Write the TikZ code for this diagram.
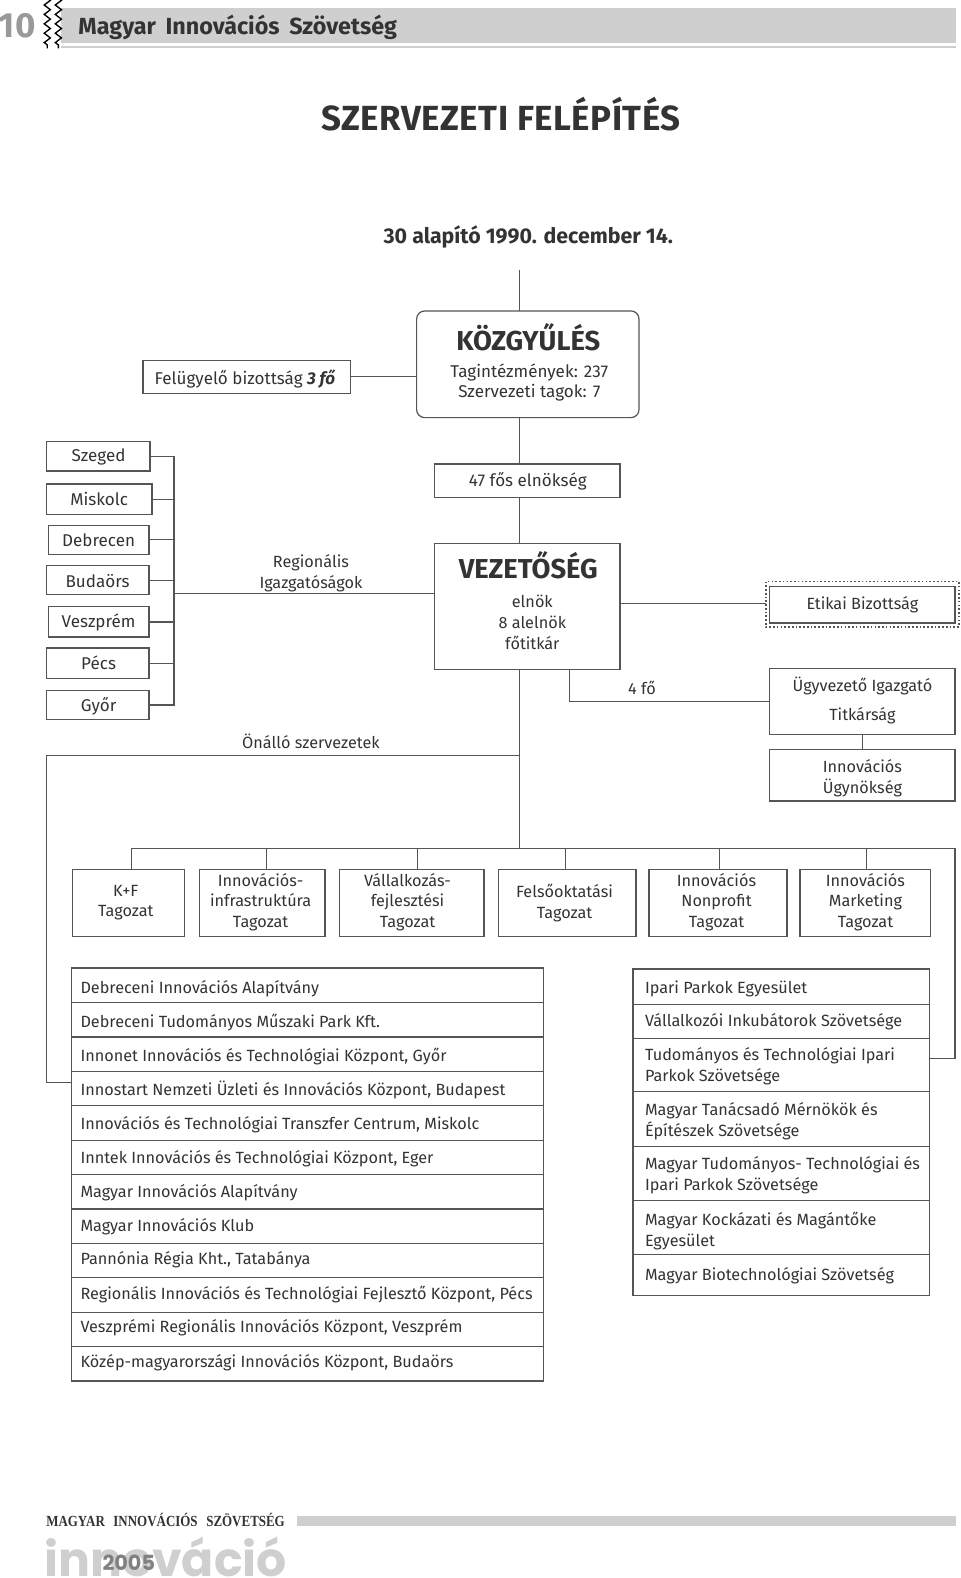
\documentclass[tikz,border=0pt]{standalone}
\usepackage{fontspec}
\setmainfont{Fira Sans}
\newfontfamily\logofont{Poppins}[BoldFont=* Bold]
\newfontfamily\serifhead{Liberation Serif}[FakeStretch=0.84]
\usetikzlibrary{decorations.pathmorphing,calc}
\definecolor{ink}{HTML}{333333}
\definecolor{rule}{HTML}{555555}
\definecolor{bar}{HTML}{CFCFCF}
\newcommand{\fz}[1]{\fontsize{#1}{15.5}\selectfont}
\tikzset{
  x=0.75pt,y=-0.75pt,
  every node/.style={inner sep=0pt,outer sep=0pt,text=ink,font=\fz{12.1}},
  boxed/.style={draw=rule,line width=0.9pt,anchor=north west},
  link/.style={draw=rule,line width=0.9pt},
  lbl/.style={align=center},
  big/.style={align=center,font=\fz{12.7}},
  head/.style={font=\fz{20.4}\bfseries},
  item/.style={anchor=west,align=left},
  itm/.style={anchor=west,text height=9pt,text depth=3pt},
  zig/.style={decorate,decoration={zigzag,segment length=7pt,amplitude=2.3pt},line width=1pt,black}
}
\newcommand{\bx}[5]{\node[boxed,minimum width=#4*0.75pt-#2*0.75pt,minimum height=#5*0.75pt-#3*0.75pt] (#1) at (#2,#3) {};}
\begin{document}
\begin{tikzpicture}
\useasboundingbox (0,0) rectangle (954,1568.1);
\clip (0,0) rectangle (954,1568.1);
% header
\fill[bar] (61,8) rectangle (950,43);
\fill[bar] (61,46) rectangle (950,48);
\node[text=black!40,font=\fz{26}\bfseries,anchor=west] (pg) at (-1,26) {10};
\coordinate (za) at (47,-2); \coordinate (zb) at (47,48);
\coordinate (zc) at (58,-2); \coordinate (zd) at (58,48);
\draw[zig] (za) -- (zb);
\draw[zig] (zc) -- (zd);
\node[font=\fz{17.4}\bfseries,anchor=west,text=ink] (org) at (78,27) {Magyar\hspace{3pt} Innovációs\hspace{3pt} Szövetség};
\node[font=\fz{26}\bfseries\addfontfeature{LetterSpace=1.45},text=ink] (title) at (498,113) {SZERVEZETI FELÉPÍTÉS};
\node[font=\fz{15.9}\bfseries,text=ink] (sub) at (525,235) {30 alapító 1990. december 14.};
\coordinate (top) at (516,268);
% kozgyules
\node[boxed,rounded corners=6pt,minimum width=221*0.75pt,minimum height=106*0.75pt] (koz) at (414,309) {};
\node[head] (kozt) at (525,335) {KÖZGYŰLÉS};
\node[big] (kozl) at (526,380) {Tagintézmények: 237\\Szervezeti tagok: 7};
\bx{fel}{142}{358}{348}{391}
\node[big] (felt) at (243.5,376.5) {Felügyelő bizottság \textbf{\textit{3 fő}}};
\draw[link] (fel.east) -- (fel.east -| koz.west);
\draw[link] (top) -- (top |- koz.north);
% elnokseg
\bx{eln}{432}{461}{616}{494}
\node[big] (elnt) at (524.5,478.5) {47 fős elnökség};
\bx{vez}{432}{540}{616}{665}
\node[head] (vezt) at (525,562) {VEZETŐSÉG};
\node[lbl] (vezl) at (529,618.5) {elnök\\8 alelnök\\főtitkár};
\coordinate (spine) at (516,415);
\draw[link] (spine) -- (spine |- eln.north);
\draw[link] (spine |- eln.south) -- (spine |- vez.north);
% cities
\bx{c1}{46}{439}{149}{468}
\bx{c2}{46}{481}{151}{511}
\bx{c3}{48}{522}{148}{551}
\bx{c4}{46}{562}{148}{591}
\bx{c5}{48}{603}{148}{633}
\bx{c6}{46}{644}{148}{674}
\bx{c7}{46}{686}{148}{715}
\node[big] (c1t) at (98,454) {Szeged};
\node[big] (c2t) at (98.5,496) {Miskolc};
\node[big] (c3t) at (98,536.5) {Debrecen};
\node[big] (c4t) at (97,577) {Budaörs};
\node[big] (c5t) at (98,619) {Veszprém};
\node[big] (c6t) at (98,659) {Pécs};
\node[big] (c7t) at (98,702) {Győr};
\coordinate (br) at (173,590);
\draw[link] (c1.east) -- (c1.east -| br) -- (c7.east -| br) -- (c7.east);
\foreach \c in {c2,c3,c4,c5,c6}{\draw[link] (\c.east) -- (\c.east -| br);}
\draw[link] (br) -- (br -| vez.west);
\node[lbl] (reg) at (309,570) {Regionális\\Igazgatóságok};
% etikai
\draw[rule,line width=1.1pt,dash pattern=on 1.2pt off 1.6pt] (761,578) rectangle (953,623);
\bx{eti}{765}{583}{949}{619}
\node (etit) at (857,600.5) {Etikai Bizottság};
\coordinate (etl) at (761,600);
\draw[link] (etl -| vez.east) -- (etl);
% ugyvezeto
\bx{ugy}{765}{664}{949}{730}
\node (ugy1) at (857,682) {Ügyvezető Igazgató};
\node (ugy2) at (857,711.5) {Titkárság};
\bx{ugn}{765}{745}{949}{796}
\node[lbl] (ugnt) at (857,773) {Innovációs\\Ügynökség};
\draw[link] (ugy.south) -- (ugn.north);
\coordinate (fo) at (566,697);
\draw[link] (fo |- vez.south) -- (fo) -- (fo -| ugy.west);
\node (fotxt) at (638,684) {4 fő};
% main vertical
\coordinate (bus) at (516,843);
\coordinate (ona) at (516,751);
\coordinate (onb) at (46,751);
\coordinate (onc) at (46,1076);
\node (ontxt) at (309,737) {Önálló szervezetek};
% tagozat
\bx{t1}{72}{864}{183}{931}
\bx{t2}{198}{864}{323}{931}
\bx{t3}{337}{864}{481}{931}
\bx{t4}{495}{864}{632}{931}
\bx{t5}{645}{864}{782}{931}
\bx{t6}{795}{864}{925}{931}
\node[lbl] (t1t) at (125,897) {K+F\\Tagozat};
\node[lbl] (t2t) at (259,896.5) {Innovációs-\\infrastruktúra\\Tagozat};
\node[lbl] (t3t) at (405,896.5) {Vállalkozás-\\fejlesztési\\Tagozat};
\node[lbl] (t4t) at (561,897) {Felsőoktatási\\Tagozat};
\node[lbl] (t5t) at (712,896.5) {Innovációs\\Nonprofit\\Tagozat};
\node[lbl] (t6t) at (860,896.5) {Innovációs\\Marketing\\Tagozat};
\coordinate (s1) at (131,843); \coordinate (s2) at (265,843); \coordinate (s3) at (415,843);
\coordinate (s4) at (562,843); \coordinate (s5) at (715,843); \coordinate (s6) at (861,843);
\coordinate (busr) at (949,843);
\coordinate (busd) at (949,1052);
\draw[link] (s1 |- t1.north) -- (s1) -- (busr) -- (busd);
\foreach \s/\t in {s2/t2,s3/t3,s4/t4,s5/t5,s6/t6}{\draw[link] (\s) -- (\s |- \t.north);}
\draw[link] (spine |- vez.south) -- (bus);
\draw[link] (ona) -- (onb) -- (onc);
% left list
\foreach \n/\y/\ty/\txt in {
 a1/962/983/Debreceni Innovációs Alapítvány,
 a2/996.2/1017/Debreceni Tudományos Műszaki Park Kft.,
 a3/1030.4/1050.5/Innonet Innovációs és Technológiai Központ{,} Győr,
 a4/1064.6/1084.5/Innostart Nemzeti Üzleti és Innovációs Központ{,} Budapest,
 a5/1098.8/1118/Innovációs és Technológiai Transzfer Centrum{,} Miskolc,
 a6/1133/1152/Inntek Innovációs és Technológiai Központ{,} Eger,
 a7/1167.2/1186/Magyar Innovációs Alapítvány,
 a8/1201.4/1219.5/Magyar Innovációs Klub,
 a9/1235.6/1253/Pannónia Régia Kht.{,} Tatabánya,
 a10/1269.8/1287/Regionális Innovációs és Technológiai Fejlesztő Központ{,} Pécs,
 a11/1304/1320.5/Veszprémi Regionális Innovációs Központ{,} Veszprém,
 a12/1338.2/1354.5/Közép-magyarországi Innovációs Központ{,} Budaörs}
 {\node[boxed,minimum width=469*0.75pt,minimum height=34.2*0.75pt] (\n) at (71,\y) {};
  \node[itm] (\n t) at (80,\ty) {\txt};}
\draw[link] (onc) -- (onc -| a4.west);
% right list
\foreach \n/\y/\h in {b1/963/35,b2/998/34,b3/1032/53,b4/1085/54,b5/1139/54,b6/1193/54,b7/1247/40}
 {\node[boxed,minimum width=295*0.75pt,minimum height=\h*0.75pt] (\n) at (629,\y) {};}
\node[itm] (b1t) at (641,983) {Ipari Parkok Egyesület};
\node[itm] (b2t) at (641,1016.5) {Vállalkozói Inkubátorok Szövetsége};
\node[item] (b3t) at (641,1059.5) {Tudományos és Technológiai Ipari\\Parkok Szövetsége};
\node[item] (b4t) at (641,1114) {Magyar Tanácsadó Mérnökök és\\Építészek Szövetsége};
\node[item] (b5t) at (641,1168) {Magyar Tudományos- Technológiai és\\Ipari Parkok Szövetsége};
\node[item] (b6t) at (641,1223) {Magyar Kockázati és Magántőke\\Egyesület};
\node[itm] (b7t) at (641,1268) {Magyar Biotechnológiai Szövetség};
\draw[link] (busd) -- (busd -| b3.east);
% footer
\node[font=\fz{11.5}\bfseries\serifhead,anchor=west,text=ink] (ft) at (46,1510.5) {MAGYAR\hspace{4pt} INNOVÁCIÓS\hspace{4pt} SZÖVETSÉG};
\fill[bar] (295,1506) rectangle (950,1516);
\node[font=\fz{35.3}\bfseries\logofont,anchor=base west,text=bar] (logo) at (44,1566.5) {innováció};
\node[font=\fz{15.5}\bfseries\logofont,text=black!50] (yr) at (128,1553) {2005};
\end{tikzpicture}
\end{document}
